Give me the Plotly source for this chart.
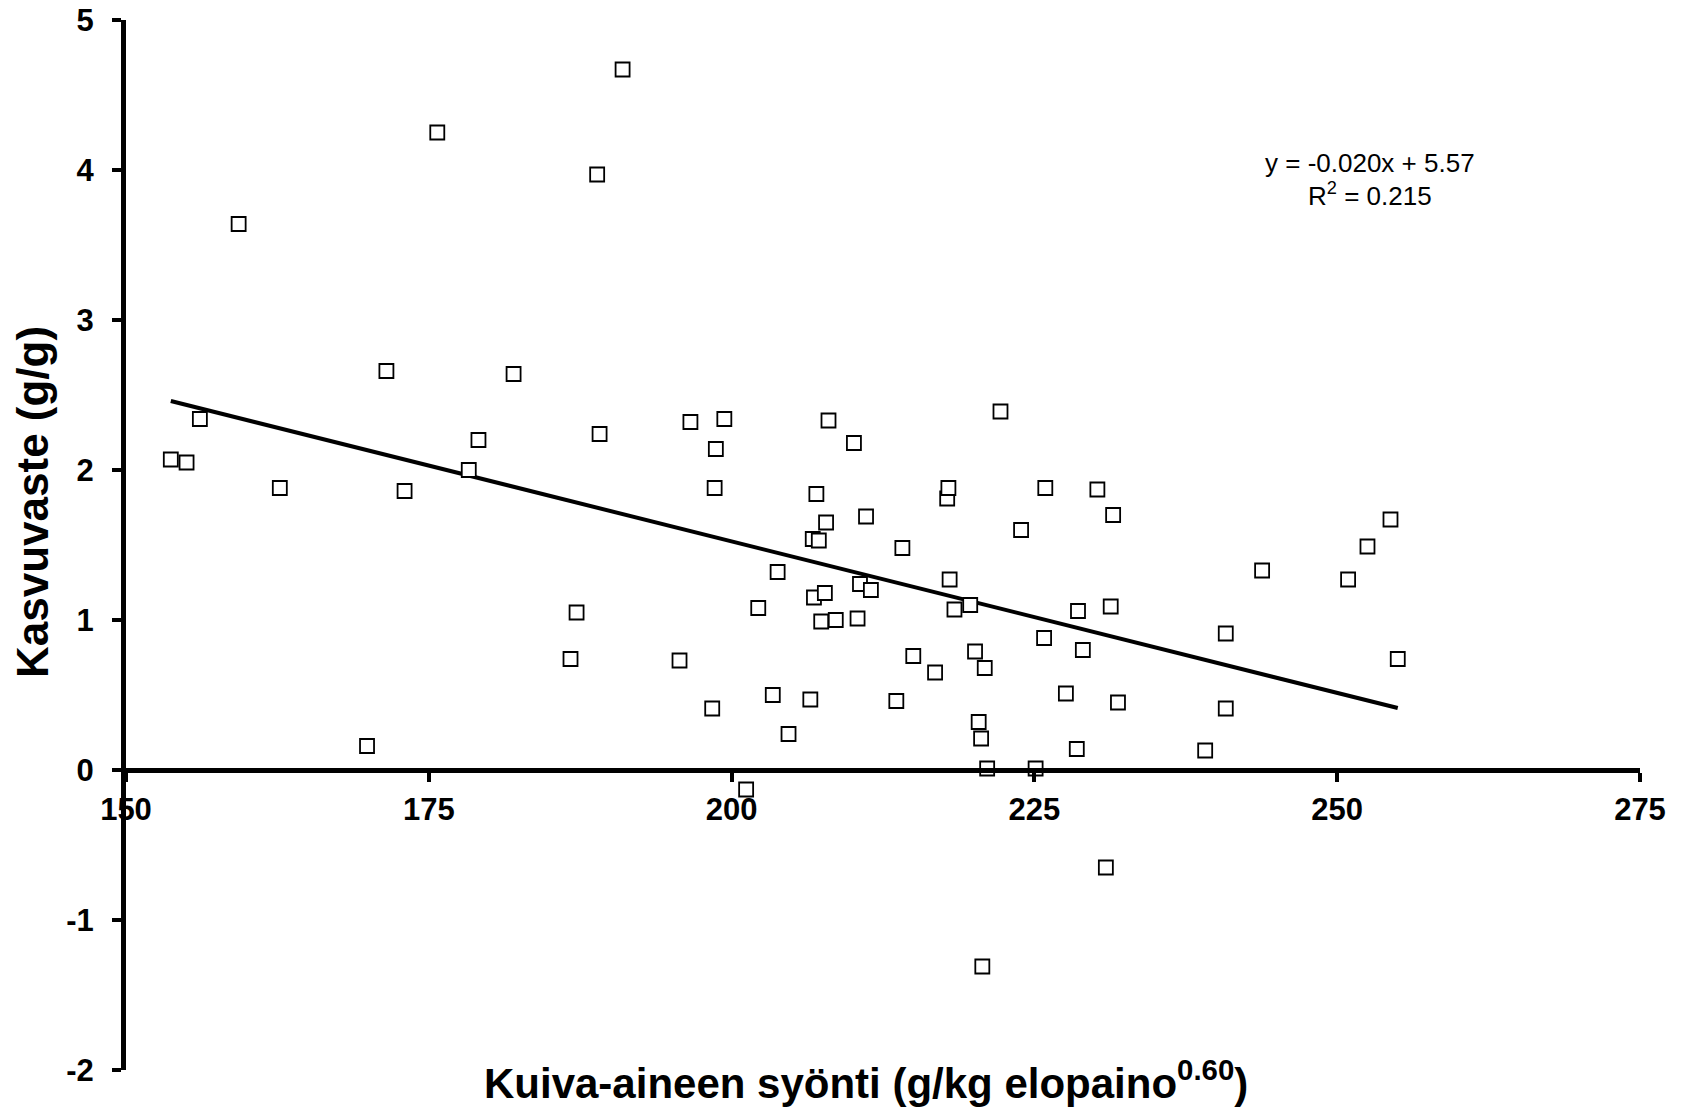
import numpy as np
import plotly.graph_objects as go

# Data: dry matter intake (g/kg LW^0.60) vs growth response (g/g)
intake = [153.7, 155.0, 156.1, 159.3, 162.7, 169.9, 171.5, 173.0, 175.7, 178.3,
          179.1, 182.0, 186.7, 187.2, 188.9, 189.1, 191.0, 195.7, 196.6, 198.4,
          198.6, 198.7, 199.4, 201.2, 202.2, 203.4, 203.8, 204.7, 206.5, 206.7,
          206.8, 207.0, 207.2, 207.4, 207.7, 207.8, 208.0, 208.6, 210.1, 210.4,
          210.6, 211.1, 211.5, 213.6, 214.1, 215.0, 216.8, 217.8, 217.9, 218.0,
          218.4, 219.7, 220.1, 220.4, 220.6, 220.7, 220.9, 221.1, 222.2, 223.9,
          225.1, 225.8, 225.9, 227.6, 228.5, 228.6, 229.0, 230.2, 230.9, 231.3,
          231.5, 231.9, 239.1, 240.8, 240.8, 243.8, 250.9, 252.5, 254.4, 255.0]
response = [2.07, 2.05, 2.34, 3.64, 1.88, 0.16, 2.66, 1.86, 4.25, 2.00,
            2.20, 2.64, 0.74, 1.05, 3.97, 2.24, 4.67, 0.73, 2.32, 0.41,
            1.88, 2.14, 2.34, -0.13, 1.08, 0.50, 1.32, 0.24, 0.47, 1.54,
            1.15, 1.84, 1.53, 0.99, 1.18, 1.65, 2.33, 1.00, 2.18, 1.01,
            1.24, 1.69, 1.20, 0.46, 1.48, 0.76, 0.65, 1.81, 1.88, 1.27,
            1.07, 1.10, 0.79, 0.32, 0.21, -1.31, 0.68, 0.01, 2.39, 1.60,
            0.01, 0.88, 1.88, 0.51, 0.14, 1.06, 0.80, 1.87, -0.65, 1.09,
            1.70, 0.45, 0.13, 0.91, 0.41, 1.33, 1.27, 1.49, 1.67, 0.74]

x_ticks = [150, 175, 200, 225, 250, 275]
x_ticktext = ["150", "175", "200", "225", "250", "275"]
y_ticks = [-2, -1, 0, 1, 2, 3, 4, 5]
y_ticktext = ["-2", "-1", "0", "1", "2", "3", "4", "5"]

eq_text = "y = -0.020x + 5.57"
r2_text = "R<sup>2</sup> = 0.215"
x_title = "<b>Kuiva-aineen syönti (g/kg elopaino<sup>0.60</sup>)</b>"
y_title = "<b>Kasvuvaste (g/g)</b>"

xa = np.array(intake)
ya = np.array(response)
slope, intercept = np.polyfit(xa, ya, 1)
line_x = np.array([xa.min(), xa.max()])
line_y = slope * line_x + intercept

FONT = "Liberation Sans, Arial, sans-serif"

fig = go.Figure()
fig.add_trace(go.Scatter(
    x=line_x, y=line_y, mode="lines",
    line=dict(color="black", width=4), showlegend=False, hoverinfo="skip"))
fig.add_trace(go.Scatter(
    x=intake, y=response, mode="markers",
    marker=dict(symbol="square", size=14, color="white",
                line=dict(color="black", width=1.8)),
    showlegend=False))

# the page body has an 8px default margin; compensate so the plot area lands
# at the same place as in the reference
fig.update_layout(
    width=1681, height=1102,
    margin=dict(l=118, r=49, t=12, b=40),
    paper_bgcolor="white", plot_bgcolor="white",
    font=dict(family=FONT, color="black"),
    xaxis=dict(range=[150, 275], tickvals=x_ticks, ticktext=x_ticktext,
               showgrid=False, zeroline=False, automargin=False,
               showline=True, linecolor="black", linewidth=5,
               ticks="outside", ticklen=9, tickwidth=4, tickcolor="black",
               tickfont=dict(family=FONT, size=31, weight="bold", color="black"),
               anchor="free", position=2 / 7, ticklabelstandoff=1,
               ticklabeloverflow="allow"),
    yaxis=dict(range=[-2, 5], tickvals=y_ticks, ticktext=y_ticktext,
               showgrid=False, zeroline=False, automargin=False,
               showline=True, linecolor="black", linewidth=5,
               ticks="outside", ticklen=9, tickwidth=4, tickcolor="black",
               tickfont=dict(family=FONT, size=31, weight="bold", color="black"),
               ticklabelstandoff=12, ticklabeloverflow="allow"),
    annotations=[
        dict(text=eq_text, x=252.7, y=4.05, xref="x", yref="y", showarrow=False,
             font=dict(family=FONT, size=26, color="black"), xanchor="center", yanchor="middle"),
        dict(text=r2_text, x=252.7, y=3.84, xref="x", yref="y", showarrow=False,
             font=dict(family=FONT, size=26, color="black"), xanchor="center", yanchor="middle"),
        dict(text=x_title, x=0.489, y=-0.0095, xref="paper", yref="paper", showarrow=False,
             font=dict(family=FONT, size=42, color="black"), xanchor="center", yanchor="middle"),
        dict(text=y_title, x=-0.0614, y=0.541, xref="paper", yref="paper", showarrow=False,
             textangle=-90,
             font=dict(family=FONT, size=44, color="black"), xanchor="center", yanchor="middle"),
    ],
)

fig.write_html("out.html")
